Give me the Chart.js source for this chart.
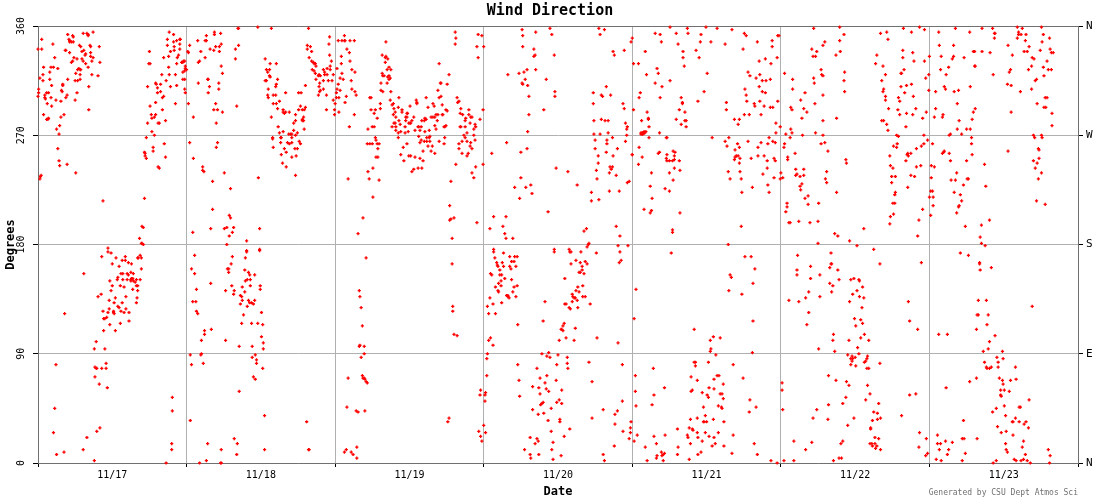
<!DOCTYPE html>
<html>
<head>
<meta charset="utf-8">
<script src="https://cdn.jsdelivr.net/npm/chart.js@4"></script>
<style>
  body { margin: 0; background: #fff; }
  .chart-box { width: 1100px; height: 500px; }
</style>
</head>
<body>
<div class="chart-box"><canvas class="chart"></canvas></div>
<script>
// [hour of the day, direction in degrees]
const nov17 = [[.6,349],[0,341],[.6,341],[.3,234],[.4,236],[.5,237],[.9,326],[.8,320],[.8,315],[.3,317],[.1,308],[.1,305],[0,302],[1.1,303],[1.1,301],[1.2,300],[1.4,305],[1.7,305],[1.5,296],[2.1,301],[2.2,294],[.9,287],[1.4,283],[1.6,283],[1.7,284],[1.9,316],[1.9,322],[2.1,326],[2.5,326],[2.4,345],[2.7,334],[3.2,325],[2.2,311],[2.9,299],[3.7,298],[3,275],[3.4,271],[3.5,278],[3.2,259],[3.4,249],[3.5,245],[4.7,246],[6.1,239],[3.7,285],[4.2,287],[3.8,307],[3.9,306],[4,312],[4,311],[4.5,301],[4.7,303],[4.8,316],[6,299],[6.3,305],[6,315],[4.4,340],[4.5,340],[5.1,338],[4.8,353],[5,349],[5.1,348],[5.1,347],[5.4,347],[5.7,347],[5.6,352],[5.7,351],[5.8,334],[5.6,331],[5.4,330],[6.3,333],[6.1,321],[6.4,324],[6.6,325],[6.8,324],[6.9,324],[6.8,320],[6.8,316],[6.4,315],[7.1,333],[7.3,331],[6.7,344],[6.9,343],[7.1,339],[7.4,340],[7.3,354],[7.9,354],[8.1,353],[8.1,352],[8.9,355],[8.4,344],[8.5,343],[9.9,343],[7.7,337],[7.6,336],[8.5,338],[8.5,335],[8.9,334],[7.7,329],[8.1,326],[10,330],[8.7,331],[8.7,320],[9.7,319],[8.2,310],[8.2,291],[10.5,216],[11.3,177],
  [16.4,185],[16.8,195],[17,194],[16.7,181],[16.8,181],[17,180],[17.2,218],[17.2,256],[17.3,255],[17.3,253],[17.5,251],[17.5,268],[17.7,280],[17.7,310],[18.1,294],[18.3,287],[18.4,284],[18.8,285],[19,287],[18.4,273],[18.8,270],[19,297],[18.6,260],[18.6,257],[19.4,280],[19.6,280],[19.4,244],[19.6,243],[17.9,329],[18.1,329],[18,339],[19,313],[19.1,312],[19.3,309],[19.3,305],[19.8,312],[19.8,306],[20.1,301],[20.3,302],[20,320],[20.1,291],[20.7,315],[21.1,326],[21.2,320],[21.4,310],[20.4,263],[20.6,252],[20.6,282],[20.3,334],[21.1,335],[20.9,344],[20.9,349],[21.2,355],[21.9,353],[21.9,347],[22.4,348],[22.9,349],[23,349],[22.9,345],[22,343],[21.4,339],[22,340],[22.9,341],[22.7,336],[22.5,334],[22.4,329],[23.2,330],[23.4,330],[23.5,331],[23.7,331],[23.8,327],[23.8,325],[22.2,320],[22.4,311],[23.4,322],[23.7,323],[23.4,316],[23.7,316],[23.7,308],[23.8,305],[22.2,296],
  [10.3,170],[11.3,174],[11.8,173],[12.6,169],[12,164],[13.1,162],[13.6,167],[14.1,167],[14.1,170],[14.6,165],[15.1,164],[16.2,169],[16.5,171],[16.7,169],[16.1,169],[16.7,160],[7.4,156],[4.3,123],[13.4,156],[13.7,156],[14.4,156],[14.6,155],[15,157],[15.4,156],[12.9,153],[12.8,151],[11.6,150],[13.7,151],[14.4,151],[15,151],[15.1,152],[15.3,152],[15,150],[15.4,150],[15.9,151],[16.5,151],[15.7,149],[15.9,146],[16.1,146],[12,146],[13.3,146],[13.9,145],[11.8,142],[15.3,143],[16.1,142],[10.2,139],[9.7,137],[14.2,137],[12.5,136],[11.5,134],[12.3,132],[13.6,132],[16,136],[15.9,132],[12.9,129],[13.1,128],[14.2,127],[13.4,125],[13.9,124],[14.7,124],[10.5,125],[11.5,127],[11.3,124],[12.2,125],[12.3,123],[12.2,124],[10.6,119],[10.8,119],[11.1,120],[14.7,117],[13.3,115],[11.6,114],[10.6,109],[12.5,109],[9.4,100],[9.1,94],[10.8,94],
  [2.9,81],[11,82],[9.2,79],[9.4,78],[9.5,78],[10.3,78],[11,78],[9.2,71],[9.9,65],[11.2,62],[2.7,45],[2.5,25],[3,7],[4.2,9],[7.3,11],[7.9,21],[9.5,26],[10,29],[9.1,2],[21.7,54],[21.7,43],[21.6,16],[21.6,11],[20.7,0]];

const nov18 = [[0,324],[.2,339],[.3,338],[.5,344],[.3,296],[.5,264],[1.1,285],[1.1,251],[1,190],[1.8,348],[3.2,348],[3.2,352],[3,348],[2.3,339],[2.1,331],[1.9,330],[3,334],[3.8,341],[4.4,340],[4.5,355],[4.5,353],[4.7,343],[5.3,343],[5.5,354],[5.3,339],[5.6,345],[5.6,327],[5.8,321],[1.9,313],[3.4,316],[3.5,316],[3.7,310],[3.5,305],[5.2,313],[5.2,308],[4.7,296],[4.4,291],[5,291],[5.8,289],[4.8,280],[5,264],[4.8,260],[2.6,244],[2.6,241],[2.8,240],[4.2,232],[6.1,239],[7.1,226],[4.2,209],[6.9,204],[7.1,202],[3.9,193],[6.1,193],[6.5,194],[7.6,194],[7.4,190],[6.9,187],[6.5,180],[9.7,183],[9.7,175],[8.4,358],[8.3,358],[8.4,344],[7.9,341],[7.9,333],[8.1,294],[11.5,359],[13.7,358],[11.6,235],[11.8,193],[11.8,176],
  [12.7,333],[12.9,324],[13.4,324],[13.1,322],[13.4,319],[13.5,318],[14.5,329],[13.5,329],[12.7,315],[12.9,315],[14.7,316],[14.5,312],[14.4,310],[13.2,308],[14,303],[14.4,303],[13.1,303],[13.2,301],[14,296],[14.5,296],[15,298],[16,305],[14.7,292],[13.7,285],[15.6,291],[15.8,288],[16,289],[15.6,289],[16.6,289],[18.1,305],[18.5,305],[19.2,311],[18.1,291],[18.4,294],[18.7,291],[19.2,293],[19,291],[17.6,287],[17.3,280],[17.6,282],[18.9,285],[18.7,283],[18.9,282],[18.7,282],[19,275],[14.8,277],[15,272],[15.6,273],[17.3,274],[17.9,272],[17.6,270],[16.5,271],[16.8,271],[17,271],[13.9,268],[13.9,267],[15.2,268],[15.3,268],[14,260],[15.2,264],[16.3,264],[16.6,263],[17,264],[17,268],[18.2,265],[18.4,263],[15.8,259],[15.3,254],[16.1,256],[17.5,259],[17.9,259],[17,252],[17.7,253],[15.5,247],[16.1,244],[17.6,237],
  [19.7,358],[19.5,344],[19.5,341],[20,343],[20.2,339],[19.8,334],[20.2,331],[20.5,330],[20.6,329],[20.8,329],[20.9,327],[20.3,324],[20.6,323],[20.8,321],[21.4,320],[21.3,319],[20.9,316],[21.6,319],[22.1,324],[22.7,325],[23.2,327],[23.2,324],[22.3,322],[22.3,320],[22.7,320],[22.1,315],[22.9,315],[21.5,313],[21.4,310],[21.5,306],[21.3,303],[21.6,307],[22.1,308],[22.6,303],[23.1,351],[23,345],[23.1,336],[23.4,331],[23.7,320],[23.5,315],[22.6,291],[23.9,291],[23.7,299],[23.9,287],
  [1.3,171],[.8,160],[1.3,156],[1.6,143],[1,133],[1.5,133],[1.6,125],[1.8,123],[2.9,109],[2.9,106],[2.4,101],[4,110],[3.9,148],[.6,89],[.8,81],[2.4,90],[2.3,89],[2.7,82],[.6,35],[3.4,16],[3.2,2],[2.1,0],[5.5,0],[5.6,0],[5.6,11],[7.4,170],[7.2,164],[6.6,160],[6.8,160],[6.8,157],[9.5,169],[9.7,174],[9.4,159],[10,157],[10.2,155],[11,155],[10.3,151],[9.8,151],[9.5,150],[7.3,146],[6.3,142],[7.7,142],[7.6,139],[9,145],[10.3,146],[11.9,146],[11.9,143],[9.4,141],[8.7,138],[8.9,137],[9,134],[8.7,131],[10,134],[11,134],[10.2,132],[10.5,132],[10.8,131],[9.8,129],[12.1,124],[9.2,122],[8.9,115],[10.5,115],[11.5,115],[12.3,114],[6.3,101],[12.1,104],[12.4,99],[12.4,94],[8.5,96],[10.6,96],[11.1,89],[10.6,87],[11.3,85],[11.3,82],[12.3,78],[10.8,71],[11.1,69],[8.5,59],[12.6,39],[7.7,20],[8.2,16],[8.1,7],[12.6,11],[19.4,34],[19.7,11],[19.8,11],[11.8,175]];

const nov19 = [[.5,348],[1.1,348],[1.5,352],[1.5,348],[1.6,348],[2.4,348],[3.1,348],[1.9,341],[2.3,338],[1,335],[2.4,331],[1,329],[.3,325],[2.7,324],[3.2,322],[1.1,321],[.8,317],[1.3,316],[2.6,315],[.5,312],[2.7,308],[3.2,306],[.3,308],[.8,307],[.2,305],[.2,301],[.6,301],[1.8,302],[3.4,303],[1.6,297],[.6,289],[3.1,287],[2.3,277],[0,296],[2.1,234],[4.5,202],[3.7,189],[5.3,275],[6,277],[6.3,277],[5.6,301],[5.8,301],[5.8,291],[6.5,291],[6.3,288],[6.8,284],[7.3,296],[7.3,292],[5.2,263],[5.6,263],[6,263],[6.5,268],[6.6,266],[6.8,263],[7.1,263],[6.9,259],[6.6,252],[6.9,252],[6.1,243],[5.3,240],[5.5,234],[7.1,233],[6.1,219],
  [8.2,347],[7.6,336],[8.2,335],[8.1,334],[8.5,333],[8.1,330],[8.7,326],[8.4,324],[9,324],[7.6,321],[7.7,319],[7.9,319],[8.5,318],[8.7,319],[8.9,317],[8.7,316],[7.4,313],[8.4,313],[7.4,307],[7.7,306],[9,306],[8.9,299],[9.4,296],[9.2,295],[9.5,292],[9.7,289],[9.4,287],[10.3,301],[10.2,293],[10.8,291],[10.8,289],[11.6,288],[12.1,294],[11.7,288],[11.4,285],[12.7,285],[11.6,285],[9.8,285],[10.3,282],[9.5,280],[9.7,280],[10.5,279],[9.2,277],[9.8,277],[11.3,277],[11.4,282],[12.1,280],[12.2,280],[12.4,282],[11.9,280],[9.8,274],[10.6,273],[10.2,272],[10.2,268],[11.3,272],[11.8,273],[11.6,263],[11,260],[10.6,254],[11.1,249],[11.9,253],[12.2,253],
  [12.9,274],[13.4,277],[13.5,277],[13.9,277],[13.7,274],[13.2,297],[13.1,299],[13.2,296],[14.7,301],[14,282],[14.4,282],[14.5,284],[14.7,283],[15.5,285],[15.8,285],[16.1,285],[16.3,287],[16.5,282],[16.6,287],[17.3,287],[17.4,287],[15,293],[15.8,296],[16,294],[16.8,301],[17.3,295],[17.1,302],[16.6,307],[17,313],[17.1,313],[16.8,329],[18.1,312],[18.4,320],[17.9,291],[18.1,290],[17.6,277],[17.9,278],[17.7,277],[16.1,278],[16.3,275],[14.5,273],[15.2,274],[13.5,269],[14.8,268],[15.2,268],[15.3,269],[13.9,266],[13.7,264],[14.4,265],[14.8,265],[15.3,265],[16.8,265],[17.7,268],[17.6,263],[15,261],[15.7,261],[14.2,257],[15.5,257],[16.1,255],[13.7,251],[14.2,249],[12.9,252],[13.4,243],[14,243],[12.7,242],[12.4,240],
  [19.7,301],[20,298],[19.8,297],[20.3,292],[21.6,291],[20.2,288],[20.6,287],[21.6,287],[22.1,285],[21.1,284],[21,282],[23.4,283],[23.9,291],[21.9,285],[20.3,277],[20.2,277],[21,277],[22.6,279],[22.7,277],[22.4,275],[21.8,280],[20.8,270],[21,268],[22.4,270],[22.6,266],[21.3,272],[20,263],[20.5,265],[21.3,265],[21.9,264],[21.8,261],[22.1,259],[20,259],[20.5,255],[21.3,253],[21.5,255],[19.5,246],[22.7,244],[23.9,246],[22.1,239],[22.4,235],[18.7,232],[18.5,212],[18.5,200],[18.7,201],[19.2,202],[18.9,185],[22.9,198],[19.4,355],[19.5,350],[19.4,345],[23.1,353],[23.7,352],[22.9,343],[23.1,334],
  [5,169],[3.9,142],[4,137],[4.2,128],[4.4,113],[3.9,96],[4,97],[4.7,96],[4.7,90],[4.2,87],[4.4,72],[4.5,70],[4.7,70],[4.8,69],[5,67],[5.2,66],[2.1,70],[1.9,46],[3.4,43],[3.7,42],[4.8,43],[3.5,13],[1.5,9],[1.8,11],[2.6,9],[2.9,7],[3.5,4],[18.9,164],[19,129],[19,125],[19.2,106],[19.7,105],[18.4,37],[18.2,34],[23.5,60],[23.4,56],[23.2,26],[23.5,22],[23.7,18]];

const nov20 = [[0,343],[.3,58],[.2,56],[.2,51],[0,31],[.3,25],[.5,72],[.5,86],[.6,90],[.8,101],[1.1,103],[1.5,97],[.6,129],[.8,123],[1,136],[1.5,131],[1.9,123],[2.9,132],[1.6,174],[1.8,169],[3.2,173],[2.1,165],[2.2,163],[2.3,162],[1.1,156],[1.3,155],[2.6,159],[2.6,155],[2.9,155],[3,165],[3.2,162],[4.2,170],[4.2,162],[4.4,160],[4.5,166],[4.9,166],[5,170],[5.4,170],[5.2,162],[3.4,152],[2.8,150],[2.4,148],[1.9,145],[2.8,146],[2.3,142],[2.4,141],[4.5,151],[4.9,145],[5.4,146],[4.7,141],[3.7,138],[3.9,138],[3.9,137],[4.1,136],[5.2,137],[5.5,114],[5.5,81],[5.7,68],[5.8,55],
  [9.9,133],[9.6,117],[8.6,78],[9.4,90],[10.5,91],[10.2,88],[10.7,87],[12,89],[11.8,81],[13.5,87],[13.5,82],[13.6,78],[12.2,101],[13.3,103],[14.6,101],[18.3,103],[12.5,110],[12.6,110],[12.8,109],[12.8,113],[13,115],[14.8,111],[11.4,174],[13.9,174],[14.1,174],[15.7,174],[18.2,173],[22,174],[14.1,164],[14.9,167],[15.6,165],[16.4,166],[16.7,164],[15.9,162],[15.9,159],[15.4,157],[15.6,157],[16.2,156],[13.1,152],[16,146],[15.2,145],[14.9,142],[15.4,141],[14.3,139],[14.4,137],[14.6,136],[14.8,136],[15.1,134],[14.3,133],[16,137],[16.4,137],[17.2,131],[13.1,131],[13.3,131],[13.8,128],[14,127],[15.2,128],[21.9,165],[22.2,167],[21.7,99],[17,83],[22.4,81],[17.5,67],
  [9.1,70],[10.2,72],[7.9,63],[8.9,62],[9.9,66],[10.1,61],[10.5,59],[9.1,57],[11.7,68],[12.6,60],[12.2,52],[11.8,50],[12.6,49],[9.6,50],[9.4,49],[9.2,48],[7.9,44],[8.8,40],[9.7,41],[10.9,45],[10.4,35],[12.3,36],[12.3,34],[10.9,26],[13.9,28],[13,22],[7.5,21],[8.6,20],[8.8,18],[8.3,16],[11.2,17],[11,11],[6.6,11],[7.5,7],[7.6,4],[8.9,7],[11.2,3],[12.5,6],[19.3,44],[17.5,37],[21.2,40],[21.6,43],[22.4,51],[21.2,32],[22.5,26],[21.1,14],[19.3,7],[19.5,2],[23.8,34],[23.7,29],[23.7,25],[23.5,20],
  [6.2,357],[6.3,352],[6.3,343],[8.4,355],[10.7,358],[11,353],[8.1,341],[8.1,335],[8.3,336],[11.4,336],[3.9,320],[5.7,321],[6.5,322],[7,324],[8.4,324],[10.1,316],[6.7,316],[6.2,313],[6.3,312],[7.1,311],[11.5,306],[11.5,302],[7.3,302],[9.7,291],[7.3,287],[7.1,273],[3.7,264],[1.3,255],[6,256],[7,259],[11.7,243],[13.6,240],[6,235],[7.6,229],[6.8,227],[5,227],[7.8,222],[5.8,218],[15.1,229],[10.4,207],[1.6,203],[3.6,203],[3.1,195],[1,193],[3.4,189],[3.6,185],[4.7,185],[16.2,191],[16.6,193],[16.9,180],[17,181],[16.7,178],[18.6,358],[19.5,357],[18.8,353],[20.9,339],[21.1,336],[22.7,340],[23.8,347],[19.8,310],[17.7,305],[19,303],[19.2,302],[20.5,303],[17.7,296],[22.5,296],[22.7,292],[17.8,282],[19,283],[19.6,282],[20.1,282],[20.1,272],[17.8,271],[18.8,271],[20.8,268],[18,266],[19.9,266],[19.9,263],[18,259],[19.8,256],[21.6,259],[18.5,253],[20.9,253],[18.5,247],[20.4,244],[20.8,244],[18.2,241],[20.6,242],[20.3,239],[21.4,237],[18.3,234],[17.4,223],[20.3,224],[21.9,224],[17.4,216],[18.6,217],[21.4,195],[22,187],[21.7,179],[23.3,179],[22.9,280],[23.2,277],[23.1,275],[23.1,270],[22.9,265],[24,254],[23.2,231],[23.5,232],[1.6,176],[11.4,176],[13.8,176]];

const nov21 = [[0,350],[.2,329],[1,329],[.2,291],[6.1,359],[8.9,358],[11.9,359],[13.7,358],[16.1,357],[3.7,354],[4.5,353],[7.1,354],[9,354],[11.1,353],[18.1,354],[18.4,352],[4.7,347],[7.4,345],[11,347],[12.7,347],[15,345],[20.2,347],[22.6,348],[22.6,343],[23.5,352],[23.7,352],[2.1,339],[8.2,339],[10.3,340],[17.9,341],[8.2,334],[10.8,334],[21.5,333],[23.4,334],[20.5,331],[22.4,329],[8.4,327],[4,325],[4.2,321],[12.1,321],[18.7,322],[2.3,320],[19,319],[20.6,320],[20,317],[6.1,315],[21,315],[21.6,315],[22.3,316],[3.7,313],[4.8,310],[20.5,310],[18.2,308],[1.3,305],[11.6,306],[21,306],[21.5,305],[18.4,303],[1.1,301],[4.5,301],[7.9,301],[18.5,298],[10.6,298],[15.2,297],[20.6,298],[23.5,298],[8.1,297],[8.1,296],[19.7,296],[19.8,294],[21.3,294],[22.3,293],[22.7,293],[7.6,291],[15.2,291],[8.5,289],[2.4,289],[18.9,287],[18.1,287],[20.8,287],[2.6,284],[2.6,283],[7.1,283],[8.5,282],[8.7,282],[1.5,282],[16.5,283],[17.3,283],[17.1,279],[7.9,279],[8.7,277],[23.2,280],[23.9,277],[2.7,277],[23.2,272],[4.4,272],
  [1.4,271],[1.6,272],[1.7,272],[1.9,273],[2.2,273],[1.4,272],[1.6,271],[1.7,271],[1.9,272],[2,272],[2.7,268],[5.5,268],[5.6,268],[12.9,268],[15.6,268],[22.1,268],[15,265],[18.7,265],[20.8,264],[22.7,265],[23.1,264],[17,263],[15.3,261],[17.3,260],[16.6,258],[20.3,260],[21.9,263],[1.1,260],[4.4,256],[4.2,255],[5.6,254],[0,254],[6.6,257],[6.9,256],[6.8,253],[1.6,252],[5.5,251],[5.6,249],[6,249],[6.5,249],[7.6,249],[6.8,250],[17.1,253],[16.8,253],[16.6,252],[16.5,250],[17.4,251],[17.3,247],[19.2,251],[20.3,253],[21.3,253],[21.8,249],[22.9,251],[23.1,249],[1,246],[6.8,243],[7.7,241],[6,239],[3.1,239],[15.5,240],[17.4,240],[21.8,243],[21.1,238],[22.9,235],[24,239],[23.9,234],[15.8,234],[17.6,234],[6.6,233],[2.9,228],[21.9,229],[19.4,227],[5.3,226],[6,224],[17.7,223],[22.1,223],[3.2,218],[1.9,209],[3.1,208],[2.9,206],[7.7,206],[17.6,195],[6.5,192],[6.5,190],[15.5,180],
  [6.3,173],[18.2,170],[19.2,170],[19.8,160],[15.8,155],[16,153],[19.5,148],[15.6,142],[17.7,139],[.6,143],[19.5,117],[.3,119],[10,110],[13.1,104],[14.2,103],[12.6,101],[12.7,94],[12.6,92],[13.5,89],[19.4,91],[10,83],[10.2,83],[10.2,80],[12.3,83],[16.3,81],[3.4,78],[.5,72],[9.5,71],[10.5,68],[13.7,72],[14,72],[13.2,69],[17.9,70],[14.7,65],[12.4,62],[13.2,61],[5.2,62],[.5,59],[9.5,59],[9.7,60],[11.3,58],[14.2,57],[14.5,57],[3.5,56],[12.1,56],[12.3,54],[14.7,53],[19,52],[.6,47],[3.2,48],[13.9,47],[14.4,46],[14.5,45],[11.5,46],[20,46],[18.9,42],[11.8,39],[9.4,36],[10.5,37],[13.1,36],[11.5,34],[11.6,34],[12,34],[14.8,34],[9.2,29],[7.3,28],[9.7,28],[9.8,27],[10.5,25],[11.8,25],[13.9,25],[.8,23],[3.5,22],[5.3,23],[8.9,23],[9,21],[10.6,21],[12.4,22],[13.2,21],[16.3,23],[.3,18],[3.9,16],[9.4,16],[11.3,18],[13.4,16],[19.7,16],[2.1,13],[7.4,13],[12.9,14],[14.8,14],[4.7,9],[7.3,7],[5.2,8],[5,7],[4.8,6],[4,6],[3.9,4],[5,2],[2.4,2],[9.2,3],[10.6,7],[11.1,9],[16.1,8],[20.2,7],[22.4,2],[23.4,0]];

const nov22 = [[5.3,358],[9.5,359],[10.2,353],[9.5,348],[7.1,347],[6.8,344],[5,341],[5.8,339],[9.6,339],[5.2,335],[5.6,335],[8.9,336],[.6,321],[6.5,324],[10.3,322],[6.6,320],[6.8,319],[5.3,317],[1.9,316],[10.2,315],[5.4,313],[1.9,308],[10.3,306],[3.9,305],[6.8,303],[3.2,299],[5.5,296],[1.6,293],[1.8,291],[3.7,292],[4.2,289],[3.4,284],[9,284],[6.8,282],[1.6,275],[1.8,272],[5.6,272],[.8,271],[3.5,270],[6.8,270],[1.5,268],[.6,263],[6.5,263],[7.1,264],[.5,260],[7.6,257],[2.3,255],[1.1,252],[1.1,250],[10.5,250],[10.6,247],[2.4,242],[3.7,242],[7.4,240],[2.6,238],[2.4,237],[3.1,236],[3.7,237],[.3,235],[7.2,234],[7.4,231],[3.4,230],[3.1,228],[3.2,225],[9,223],[4.4,220],[3.9,218],[4.4,213],[6.1,214],[1,214],[1,211],[.8,207],[2.9,199],[4.7,198],[6,199],[1.5,198],[1.3,198],[8.7,189],[9.2,187],[11.1,183],[12.3,179],[13.4,193],[15,176],[6,181],
  [16.1,354],[17.1,355],[17.3,349],[19.8,358],[21.1,355],[22.4,359],[23.2,357],[19.7,340],[15.5,336],[21.3,338],[19.7,334],[15.3,329],[16.5,327],[21.5,331],[23.2,331],[19.9,324],[19.4,321],[19.5,321],[16.9,320],[23.9,320],[23.4,317],[16.3,315],[19.4,310],[20.3,311],[21.1,312],[16.6,308],[16.5,306],[20,305],[16.9,302],[19,301],[21.4,302],[23.9,307],[16.9,299],[19.2,298],[17.4,292],[18.9,291],[21.8,292],[20.3,288],[23.5,289],[21.3,287],[19.2,287],[16.3,282],[16.6,282],[22.9,284],[17.1,279],[17.3,274],[20.2,277],[18.7,270],[19,269],[23.1,270],[23.7,266],[18.8,263],[18.2,261],[18.7,260],[23.1,263],[22.7,261],[21.9,259],[17.6,253],[20.5,255],[20.6,253],[21,255],[20.4,254],[20.2,249],[17.7,245],[18.1,243],[21.9,244],[22.6,245],[21,237],[21.6,236],[17.9,236],[18.5,236],[17.9,231],[20.5,227],[18.5,223],[18.4,221],[18.1,214],[18.4,214],[22.9,209],[17.7,203],[18.2,205],[22.3,200],[17.6,197],[22.1,187],
  [2.7,171],[8.1,173],[2.6,159],[2.6,155],[4.8,162],[7.9,161],[8.1,164],[8.2,164],[9.2,159],[6.3,155],[4.8,152],[9.4,151],[7.9,148],[8.4,146],[16,164],[22.7,165],[11.3,151],[11.8,152],[12.6,151],[12.7,150],[13.2,145],[12.3,142],[11.6,139],[8.2,141],[4.5,141],[6.3,137],[4,136],[12.7,137],[13.4,136],[1.3,134],[2.9,133],[11.1,133],[20.6,133],[13.1,128],[4.5,124],[11.9,119],[12.9,118],[13.2,115],[12.1,113],[4.2,114],[20.8,117],[22.1,110],[8.5,106],[13.5,106],[12.9,103],[8.4,101],[11,101],[14.2,101],[6.1,94],[12.4,95],[8.7,92],[12.6,90],[10.8,89],[11.5,88],[12,87],[11.3,86],[11.6,86],[14,88],[13.9,86],[13.7,84],[13.5,83],[11.5,84],[11.3,81],[12.1,80],[16,82],[13.9,78],[14.2,78],[7.7,72],[8.9,68],[.2,66],[10.6,67],[11,64],[14,64],[.2,60],[20.8,56],[21.8,57],[14.4,57],[10.5,54],[13.7,52],[7.7,48],[10,49],[15.8,49],[.3,44],[5.8,44],[15,42],[15.6,41],[19.5,39],[5.2,37],[7.6,36],[11.8,37],[15.6,36],[16.1,37],[14.8,35],[10.8,31],[14.5,29],[14.5,28],[22.4,25],[15.2,21],[15.8,20],[23.5,20],[2.1,18],[5,17],[10,18],[9.7,16],[14.4,16],[14.7,16],[15.2,16],[14.8,14],[15.5,14],[15.3,12],[16.1,11],[22.3,13],[23.7,8],[23.4,6],[4,11],[.5,2],[2.1,2],[8.5,2],[9.4,4],[9.8,4]];

const nov23 = [[1.5,355],[4.2,358],[6.5,355],[8.5,358],[10.2,358],[10.5,354],[10.6,354],[10.5,350],[14.2,359],[15,358],[18.1,359],[14.4,355],[14.4,353],[14.2,350],[14.8,353],[15.6,353],[18.4,353],[19.4,350],[15.5,348],[18.2,347],[1.6,344],[3.9,344],[12.7,344],[16.1,343],[7.1,339],[7.3,339],[8.5,339],[9.8,338],[15.3,339],[15.8,339],[17.9,340],[19.5,341],[19.7,338],[20,338],[0,335],[1.9,335],[3.9,335],[3.7,333],[5.6,334],[13.4,336],[16.6,334],[16.9,333],[19,331],[3.1,326],[1.8,324],[2.7,320],[7.3,327],[7.4,327],[10.3,320],[13.1,324],[12.9,322],[16.5,327],[16,324],[18.4,326],[19.2,324],[19.7,324],[18.5,319],[17.3,316],[17.1,315],[12.6,312],[13.2,311],[6.6,310],[2.4,310],[2.6,308],[1,306],[4,306],[4.7,307],[14.7,306],[16.5,308],[18.7,301],[19,301],[17.4,296],[4.5,296],[7.4,292],[18.5,293],[18.8,293],[1,292],[7.1,289],[13.2,289],[19.8,288],[.8,285],[2.1,285],[2.2,287],[6.9,283],[4.8,282],[19.8,278],[4.5,275],[6,275],[6.6,275],[3.4,271],[3.2,270],[5.2,271],[6.8,268],[16.8,270],[18.1,270],[17,268],[18.2,268],[.5,263],[6.8,263],[17.6,259],[17.7,258],[2.3,256],[2.4,257],[2.1,255],[3.2,255],[12.7,257],[6.9,254],[17.7,251],[3.4,249],[6,249],[8.9,246],[16.8,249],[17.4,247],[.3,245],[.8,244],[17.1,243],[4.4,239],[18.1,239],[.3,235],[3.5,233],[4.2,233],[6.1,234],[6.3,234],[17.6,234],[5.5,229],[9.1,228],[.2,224],[.5,224],[4,223],[5,221],[0,219],[.6,219],[5.2,216],[17.3,216],[4.8,212],[4.7,211],[18.7,213],[.6,212],[4.4,206],[.2,204],[9.7,200],[8.4,196],[5.8,195],[8.2,186],[8.4,181],[9,179],
  [5,173],[6.3,171],[8.1,165],[8.1,164],[10,161],[8.2,159],[7.9,134],[9.2,134],[16.6,129],[7.9,122],[7.7,122],[9.5,122],[9.3,114],[7.6,110],[1.5,106],[2.9,106],[10.6,105],[9.7,100],[9.5,94],[8.7,92],[11.8,92],[10.9,87],[11.9,86],[8.9,83],[11.1,83],[9.2,79],[9.3,78],[9.7,78],[10,79],[11.1,79],[13.9,79],[7.6,70],[6.5,67],[11.3,70],[11.8,68],[13.1,68],[14,69],[2.7,62],[11.9,65],[11.5,60],[12.1,60],[12.9,59],[11.5,56],[11.6,55],[16.1,52],[12.1,47],[14.5,46],[14.7,46],[10.8,45],[10.2,42],[12.3,39],[13.9,37],[5.5,35],[13.4,34],[13.5,34],[14.5,34],[15.6,34],[15.3,32],[11,30],[16,29],[12.4,26],[11.6,25],[13.5,23],[1.3,23],[5.3,20],[5.6,20],[7.7,20],[2.6,18],[3.7,17],[1.3,16],[1.8,16],[15.2,18],[12.3,16],[15,13],[1.6,11],[3.1,11],[12.4,11],[19.2,11],[12.6,9],[15.5,7],[2.9,7],[5.8,8],[19.5,6],[1.1,3],[1.9,2],[5.3,2],[10.8,2],[10.3,0],[13.7,3],[14,2],[14.8,2],[15.2,3],[15.8,2],[16.3,0],[19.4,0]];

const days = [nov17, nov18, nov19, nov20, nov21, nov22, nov23];
const dayLabels = ["11/17", "11/18", "11/19", "11/20", "11/21", "11/22", "11/23"];
const degreeTicks = [0, 90, 180, 270, 360];
const compassTicks = ["N", "E", "S", "W", "N"];

const points = [];
days.forEach(function (day, i) {
  day.forEach(function (d) {
    points.push({ x: i * 24 + d[0], y: d[1] });
  });
});

const mono = "'DejaVu Sans Mono', 'Liberation Mono', monospace";

const credit = {
  id: "credit",
  afterDraw: function (chart) {
    const ctx = chart.ctx;
    ctx.save();
    ctx.font = "8px " + mono;
    ctx.fillStyle = "#707070";
    ctx.textAlign = "right";
    ctx.textBaseline = "middle";
    ctx.fillText("Generated by CSU Dept Atmos Sci", 1078, 493);
    ctx.restore();
  },
};

new Chart(document.querySelector(".chart"), {
  type: "scatter",
  data: {
    datasets: [
      {
        label: "Wind Direction",
        data: points,
        pointStyle: "cross",
        pointRadius: 1.6,
        pointBorderWidth: 1.3,
        borderColor: "#ff0000",
        backgroundColor: "#ff0000",
        clip: false,
      },
    ],
  },
  plugins: [credit],
  options: {
    responsive: true,
    maintainAspectRatio: false,
    animation: false,
    layout: { padding: 0 },
    plugins: {
      legend: { display: false },
      tooltip: { enabled: false },
      title: {
        display: true,
        text: "Wind Direction",
        color: "#000",
        font: { family: mono, size: 15, weight: "bold", lineHeight: 1 },
        padding: { top: 4, bottom: 7 },
      },
    },
    scales: {
      x: {
        type: "linear",
        min: 0,
        max: 168,
        afterBuildTicks: function (axis) {
          const t = [];
          for (let v = 0; v <= 168; v += 12) t.push({ value: v });
          axis.ticks = t;
        },
        afterFit: function (axis) {
          axis.height = 37;
        },
        border: { color: "#707070" },
        grid: {
          color: function (c) {
            return c.tick.value % 24 === 0 ? "#b0b0b0" : "rgba(0,0,0,0)";
          },
          tickColor: function (c) {
            return c.tick.value % 24 === 0 ? "#000" : "rgba(0,0,0,0)";
          },
          tickLength: 4,
        },
        ticks: {
          autoSkip: false,
          maxRotation: 0,
          color: "#000",
          font: { family: mono, size: 10 },
          padding: 2,
          callback: function (v) {
            return v % 24 === 12 ? dayLabels[(v - 12) / 24] : "";
          },
        },
        title: {
          display: true,
          text: "Date",
          color: "#000",
          font: { family: mono, size: 12, weight: "bold", lineHeight: 1 },
          padding: { top: 3, bottom: 2 },
        },
      },
      y: {
        min: 0,
        max: 360,
        afterBuildTicks: function (axis) {
          axis.ticks = degreeTicks.map(function (v) {
            return { value: v };
          });
        },
        afterFit: function (axis) {
          axis.width = 38;
        },
        border: { color: "#707070" },
        grid: {
          color: function (c) {
            return c.tick.value === 360 ? "#707070" : "#b0b0b0";
          },
          tickColor: "#000",
          tickLength: 5,
        },
        ticks: {
          minRotation: 90,
          maxRotation: 90,
          crossAlign: "center",
          color: "#000",
          font: { family: mono, size: 10 },
        },
        title: {
          display: true,
          text: "Degrees",
          color: "#000",
          font: { family: mono, size: 12, weight: "bold", lineHeight: 1 },
          padding: { top: 5, bottom: 0 },
        },
      },
      y2: {
        position: "right",
        min: 0,
        max: 360,
        afterBuildTicks: function (axis) {
          axis.ticks = degreeTicks.map(function (v) {
            return { value: v };
          });
        },
        afterFit: function (axis) {
          axis.width = 22;
        },
        border: { color: "#707070" },
        grid: { drawOnChartArea: false, tickColor: "#000", tickLength: 5 },
        ticks: {
          color: "#000",
          font: { family: mono, size: 11 },
          padding: 3,
          callback: function (v) {
            return compassTicks[degreeTicks.indexOf(v)];
          },
        },
      },
    },
  },
});
</script>
</body>
</html>
